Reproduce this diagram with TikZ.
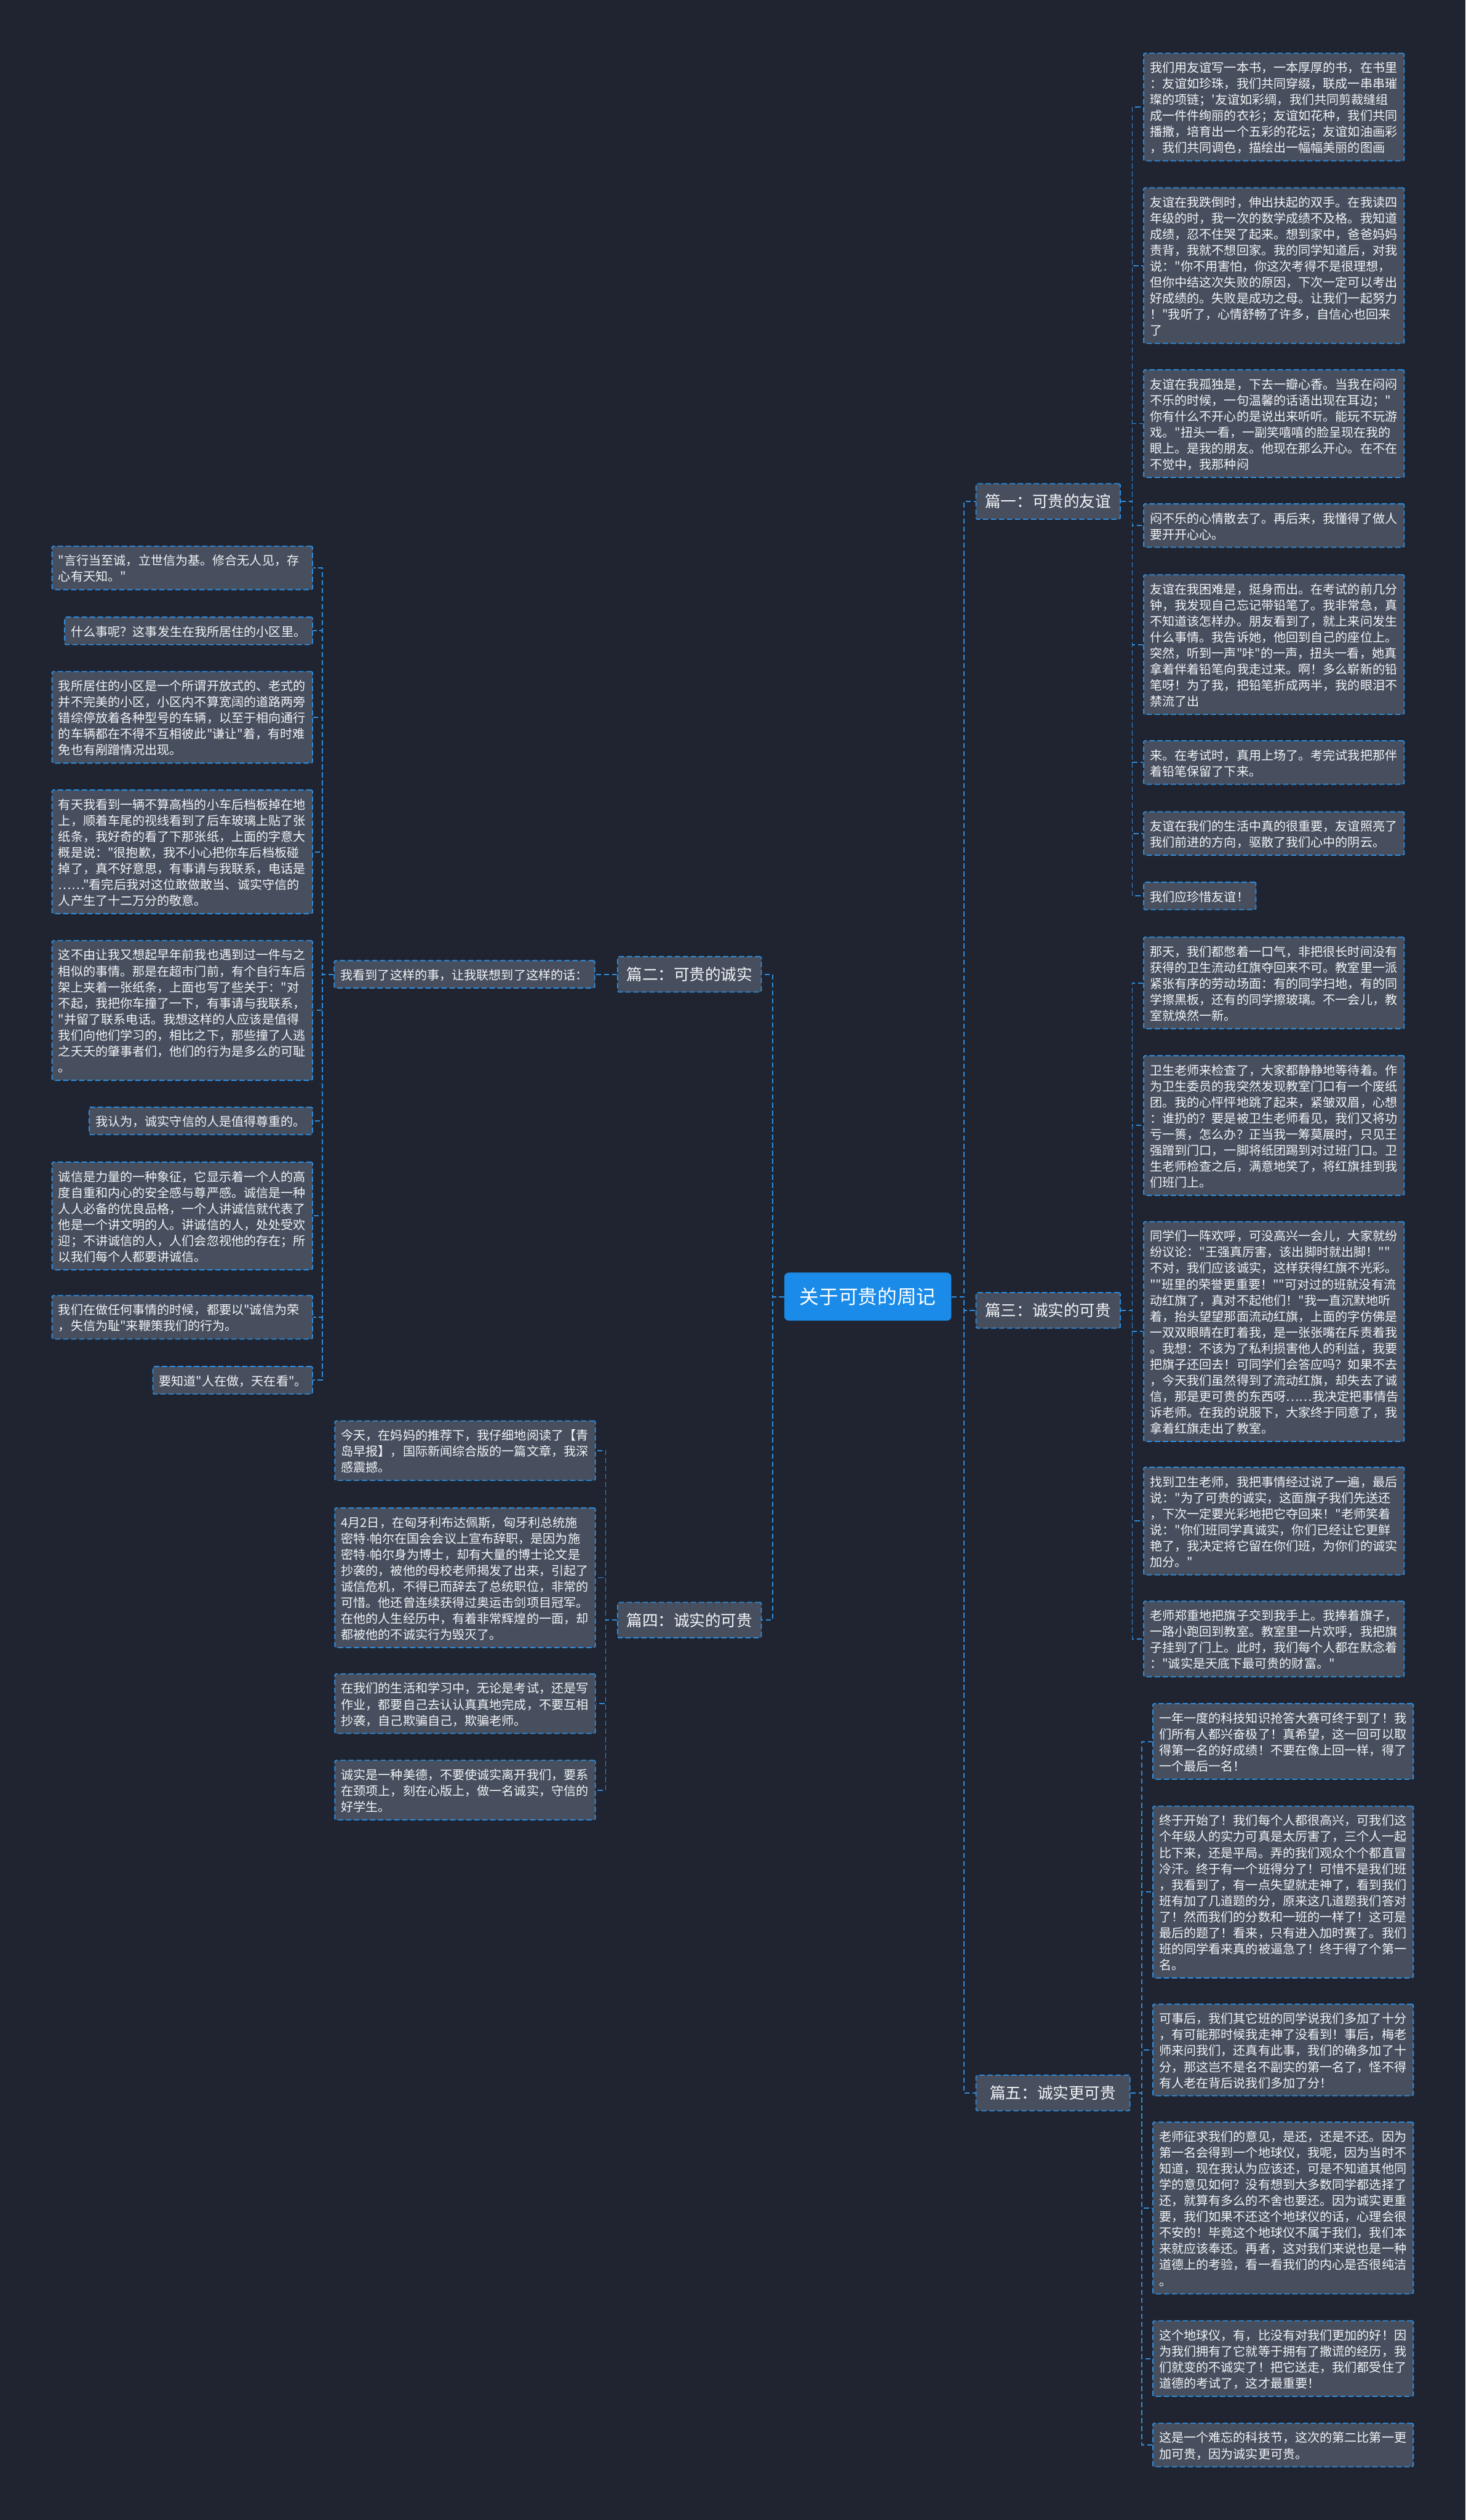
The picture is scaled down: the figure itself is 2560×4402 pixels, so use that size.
\documentclass[tikz,border=0pt]{standalone}
\usepackage{fontspec}
\newfontfamily\cjk{Noto Sans CJK SC}
\newfontfamily\latinf{Liberation Sans}
\newcommand\mdot{{\latinf\char"00B7}}
\definecolor{bgc}{RGB}{31,36,48}
\definecolor{boxc}{RGB}{71,79,94}
\definecolor{linec}{RGB}{45,140,222}
\definecolor{txtc}{RGB}{242,244,247}
\definecolor{rootc}{RGB}{26,139,232}
\newcommand\lstrut{\rule[-4.5pt]{0pt}{28pt}}
\tikzset{
  dsh/.style={line width=2pt, dash pattern=on 9pt off 5pt},
  leaf/.style={draw=linec, dsh, fill=boxc, text=txtc,
    font={\cjk\fontsize{21.6}{28}\selectfont}, align=left, text width=#1,
    inner xsep=11pt, inner ysep=10pt, rounded corners=2pt,
    execute at begin node=\lstrut, execute at end node=\lstrut},
  leaf/.default=433pt,
  plabel/.style={draw=linec, dsh, fill=boxc, text=txtc,
    font={\cjk\fontsize{27.5}{34}\selectfont}, minimum width=#1,
    minimum height=62pt, inner xsep=10pt, rounded corners=2pt},
  plabel/.default=252pt,
  rootnode/.style={fill=rootc, text=white, font={\cjk\fontsize{34}{40}\selectfont},
    minimum width=292pt, minimum height=84pt, rounded corners=8pt},
  conn/.style={draw=linec, dsh}
}
\begin{document}
\begin{tikzpicture}[x=1pt,y=-1pt]
\fill[bgc] (0,0) rectangle (2560,4402);
\path[use as bounding box] (0,0) rectangle (2560,4402);

% root
\node[rootnode] (root) at (1516,2265) {关于可贵的周记};

% part labels
\node[plabel, anchor=west] (p1) at (1704,876) {篇一：可贵的友谊};
\node[plabel, anchor=west] (p3) at (1704,2289) {篇三：诚实的可贵};
\node[plabel=269pt, anchor=west] (p5) at (1704,3656) {篇五：诚实更可贵};
\node[plabel=251pt, anchor=east] (p2) at (1331,1702) {篇二：可贵的诚实};
\node[plabel=251pt, anchor=east] (p4) at (1331,2830) {篇四：诚实的可贵};

% part 1 leaves
\node[leaf, anchor=north west] (r1a) at (1997,92) {我们用友谊写一本书，一本厚厚的书，在书里\\：友谊如珍珠，我们共同穿缀，联成一串串璀\\璨的项链；'友谊如彩绸，我们共同剪裁缝组\\成一件件绚丽的衣衫；友谊如花种，我们共同\\播撒，培育出一个五彩的花坛；友谊如油画彩\\，我们共同调色，描绘出一幅幅美丽的图画};
\node[leaf, anchor=north west] (r1b) at (1997,327) {友谊在我跌倒时，伸出扶起的双手。在我读四\\年级的时，我一次的数学成绩不及格。我知道\\成绩，忍不住哭了起来。想到家中，爸爸妈妈\\责背，我就不想回家。我的同学知道后，对我\\说："你不用害怕，你这次考得不是很理想，\\但你中结这次失败的原因，下次一定可以考出\\好成绩的。失败是成功之母。让我们一起努力\\！"我听了，心情舒畅了许多，自信心也回来\\了};
\node[leaf, anchor=north west] (r1c) at (1997,645) {友谊在我孤独是，下去一瓣心香。当我在闷闷\\不乐的时候，一句温馨的话语出现在耳边；"\\你有什么不开心的是说出来听听。能玩不玩游\\戏。"扭头一看，一副笑嘻嘻的脸呈现在我的\\眼上。是我的朋友。他现在那么开心。在不在\\不觉中，我那种闷};
\node[leaf, anchor=north west] (r1d) at (1997,879) {闷不乐的心情散去了。再后来，我懂得了做人\\要开开心心。};
\node[leaf, anchor=north west] (r1e) at (1997,1003) {友谊在我困难是，挺身而出。在考试的前几分\\钟，我发现自己忘记带铅笔了。我非常急，真\\不知道该怎样办。朋友看到了，就上来问发生\\什么事情。我告诉她，他回到自己的座位上。\\突然，听到一声"咔"的一声，扭头一看，她真\\拿着伴着铅笔向我走过来。啊！多么崭新的铅\\笔呀！为了我，把铅笔折成两半，我的眼泪不\\禁流了出};
\node[leaf, anchor=north west] (r1f) at (1997,1293) {来。在考试时，真用上场了。考完试我把那伴\\着铅笔保留了下来。};
\node[leaf, anchor=north west] (r1g) at (1997,1417) {友谊在我们的生活中真的很重要，友谊照亮了\\我们前进的方向，驱散了我们心中的阴云。};
\node[leaf=174pt, anchor=north west] (r1h) at (1997,1540) {我们应珍惜友谊！};

% part 3 leaves
\node[leaf, anchor=north west] (r3a) at (1997,1636) {那天，我们都憋着一口气，非把很长时间没有\\获得的卫生流动红旗夺回来不可。教室里一派\\紧张有序的劳动场面：有的同学扫地，有的同\\学擦黑板，还有的同学擦玻璃。不一会儿，教\\室就焕然一新。};
\node[leaf, anchor=north west] (r3b) at (1997,1843) {卫生老师来检查了，大家都静静地等待着。作\\为卫生委员的我突然发现教室门口有一个废纸\\团。我的心怦怦地跳了起来，紧皱双眉，心想\\：谁扔的？要是被卫生老师看见，我们又将功\\亏一篑，怎么办？正当我一筹莫展时，只见王\\强蹭到门口，一脚将纸团踢到对过班门口。卫\\生老师检查之后，满意地笑了，将红旗挂到我\\们班门上。};
\node[leaf, anchor=north west] (r3c) at (1997,2133) {同学们一阵欢呼，可没高兴一会儿，大家就纷\\纷议论："王强真厉害，该出脚时就出脚！""\\不对，我们应该诚实，这样获得红旗不光彩。\\""班里的荣誉更重要！""可对过的班就没有流\\动红旗了，真对不起他们！"我一直沉默地听\\着，抬头望望那面流动红旗，上面的字仿佛是\\一双双眼睛在盯着我，是一张张嘴在斥责着我\\。我想：不该为了私利损害他人的利益，我要\\把旗子还回去！可同学们会答应吗？如果不去\\，今天我们虽然得到了流动红旗，却失去了诚\\信，那是更可贵的东西呀……我决定把事情告\\诉老师。在我的说服下，大家终于同意了，我\\拿着红旗走出了教室。};
\node[leaf, anchor=north west] (r3d) at (1997,2562) {找到卫生老师，我把事情经过说了一遍，最后\\说："为了可贵的诚实，这面旗子我们先送还\\，下次一定要光彩地把它夺回来！"老师笑着\\说："你们班同学真诚实，你们已经让它更鲜\\艳了，我决定将它留在你们班，为你们的诚实\\加分。"};
\node[leaf, anchor=north west] (r3e) at (1997,2796) {老师郑重地把旗子交到我手上。我捧着旗子，\\一路小跑回到教室。教室里一片欢呼，我把旗\\子挂到了门上。此时，我们每个人都在默念着\\："诚实是天底下最可贵的财富。"};

% part 5 leaves
\node[leaf, anchor=north west] (r5a) at (2013,2975) {一年一度的科技知识抢答大赛可终于到了！我\\们所有人都兴奋极了！真希望，这一回可以取\\得第一名的好成绩！不要在像上回一样，得了\\一个最后一名！};
\node[leaf, anchor=north west] (r5b) at (2013,3154) {终于开始了！我们每个人都很高兴，可我们这\\个年级人的实力可真是太厉害了，三个人一起\\比下来，还是平局。弄的我们观众个个都直冒\\冷汗。终于有一个班得分了！可惜不是我们班\\，我看到了，有一点失望就走神了，看到我们\\班有加了几道题的分，原来这几道题我们答对\\了！然而我们的分数和一班的一样了！这可是\\最后的题了！看来，只有进入加时赛了。我们\\班的同学看来真的被逼急了！终于得了个第一\\名。};
\node[leaf, anchor=north west] (r5c) at (2013,3500) {可事后，我们其它班的同学说我们多加了十分\\，有可能那时候我走神了没看到！事后，梅老\\师来问我们，还真有此事，我们的确多加了十\\分，那这岂不是名不副实的第一名了，怪不得\\有人老在背后说我们多加了分！};
\node[leaf, anchor=north west] (r5d) at (2013,3706) {老师征求我们的意见，是还，还是不还。因为\\第一名会得到一个地球仪，我呢，因为当时不\\知道，现在我认为应该还，可是不知道其他同\\学的意见如何？没有想到大多数同学都选择了\\还，就算有多么的不舍也要还。因为诚实更重\\要，我们如果不还这个地球仪的话，心理会很\\不安的！毕竟这个地球仪不属于我们，我们本\\来就应该奉还。再者，这对我们来说也是一种\\道德上的考验，看一看我们的内心是否很纯洁\\。};
\node[leaf, anchor=north west] (r5e) at (2013,4053) {这个地球仪，有，比没有对我们更加的好！因\\为我们拥有了它就等于拥有了撒谎的经历，我\\们就变的不诚实了！把它送走，我们都受住了\\道德的考试了，这才最重要！};
\node[leaf, anchor=north west] (r5f) at (2013,4232) {这是一个难忘的科技节，这次的第二比第一更\\加可贵，因为诚实更可贵。};

% part 2
\node[leaf, anchor=east] (mid) at (1040,1702) {我看到了这样的事，让我联想到了这样的话：};
\node[leaf, anchor=north east] (l2a) at (547,953) {"言行当至诚，立世信为基。修合无人见，存\\心有天知。"};
\node[leaf=411pt, anchor=north east] (l2b) at (547,1077) {什么事呢？这事发生在我所居住的小区里。};
\node[leaf, anchor=north east] (l2c) at (547,1172) {我所居住的小区是一个所谓开放式的、老式的\\并不完美的小区，小区内不算宽阔的道路两旁\\错综停放着各种型号的车辆，以至于相向通行\\的车辆都在不得不互相彼此"谦让"着，有时难\\免也有剐蹭情况出现。};
\node[leaf, anchor=north east] (l2d) at (547,1379) {有天我看到一辆不算高档的小车后档板掉在地\\上，顺着车尾的视线看到了后车玻璃上贴了张\\纸条，我好奇的看了下那张纸，上面的字意大\\概是说："很抱歉，我不小心把你车后档板碰\\掉了，真不好意思，有事请与我联系，电话是\\……"看完后我对这位敢做敢当、诚实守信的\\人产生了十二万分的敬意。};
\node[leaf, anchor=north east] (l2e) at (547,1642) {这不由让我又想起早年前我也遇到过一件与之\\相似的事情。那是在超市门前，有个自行车后\\架上夹着一张纸条，上面也写了些关于："对\\不起，我把你车撞了一下，有事请与我联系，\\"并留了联系电话。我想这样的人应该是值得\\我们向他们学习的，相比之下，那些撞了人逃\\之夭夭的肇事者们，他们的行为是多么的可耻\\。};
\node[leaf=368pt, anchor=north east] (l2f) at (547,1933) {我认为，诚实守信的人是值得尊重的。};
\node[leaf, anchor=north east] (l2g) at (547,2029) {诚信是力量的一种象征，它显示着一个人的高\\度自重和内心的安全感与尊严感。诚信是一种\\人人必备的优良品格，一个人讲诚信就代表了\\他是一个讲文明的人。讲诚信的人，处处受欢\\迎；不讲诚信的人，人们会忽视他的存在；所\\以我们每个人都要讲诚信。};
\node[leaf, anchor=north east] (l2h) at (547,2262) {我们在做任何事情的时候，都要以"诚信为荣\\，失信为耻"来鞭策我们的行为。};
\node[leaf=257pt, anchor=north east] (l2i) at (547,2386) {要知道"人在做，天在看"。};

% part 4 leaves
\node[leaf, anchor=north east] (l4a) at (1041,2481) {今天，在妈妈的推荐下，我仔细地阅读了【青\\岛早报】，国际新闻综合版的一篇文章，我深\\感震撼。};
\node[leaf, anchor=north east] (l4b) at (1041,2633) {4月2日，在匈牙利布达佩斯，匈牙利总统施\\密特\mdot 帕尔在国会会议上宣布辞职，是因为施\\密特\mdot 帕尔身为博士，却有大量的博士论文是\\抄袭的，被他的母校老师揭发了出来，引起了\\诚信危机，不得已而辞去了总统职位，非常的\\可惜。他还曾连续获得过奥运击剑项目冠军。\\在他的人生经历中，有着非常辉煌的一面，却\\都被他的不诚实行为毁灭了。};
\node[leaf, anchor=north east] (l4c) at (1041,2923) {在我们的生活和学习中，无论是考试，还是写\\作业，都要自己去认认真真地完成，不要互相\\抄袭，自己欺骗自己，欺骗老师。};
\node[leaf, anchor=north east] (l4d) at (1041,3074) {诚实是一种美德，不要使诚实离开我们，要系\\在颈项上，刻在心版上，做一名诚实，守信的\\好学生。};

% connectors
\foreach \c in {p1,p3,p5} \draw[conn] (root.east) -- ++(22,0) |- (\c.west);
\foreach \c in {p2,p4} \draw[conn] (root.west) -- ++(-20,0) |- (\c.east);
\foreach \c in {r1a,r1b,r1c,r1d,r1e,r1f,r1g,r1h} \draw[conn] (p1.east) -- ++(20,0) |- (\c.west);
\foreach \c in {r3a,r3b,r3c,r3d,r3e} \draw[conn] (p3.east) -- ++(20,0) |- (\c.west);
\foreach \c in {r5a,r5b,r5c,r5d,r5e,r5f} \draw[conn] (p5.east) -- ++(20,0) |- (\c.west);
\draw[conn] (p2.west) -- (mid.east);
\foreach \c in {l2a,l2b,l2c,l2d,l2e,l2f,l2g,l2h,l2i} \draw[conn] (mid.west) -- ++(-20,0) |- (\c.east);
\foreach \c in {l4a,l4b,l4c,l4d} \draw[conn] (p4.west) -- ++(-20,0) |- (\c.east);
\end{tikzpicture}
\end{document}
